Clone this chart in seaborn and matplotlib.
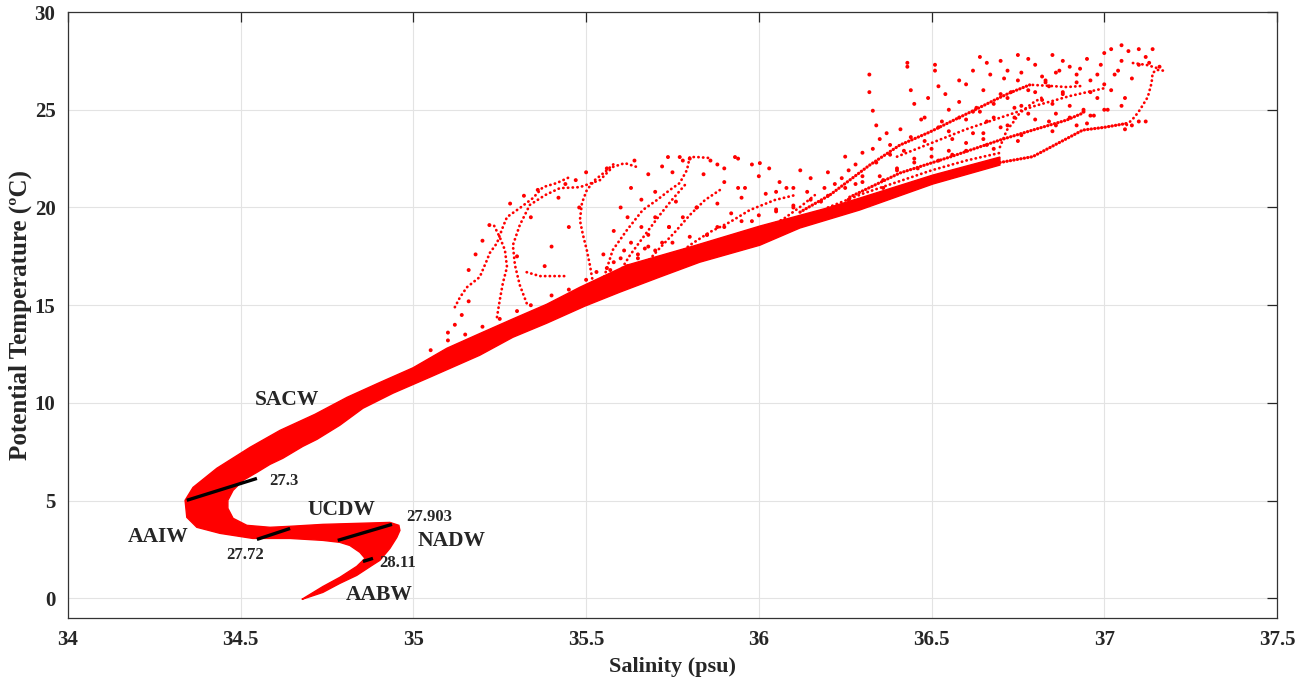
import matplotlib
matplotlib.use("Agg")
import matplotlib.pyplot as plt
import seaborn as sns
import pandas as pd

# ---------------- data (salinity psu, potential temperature degC) ----------------
# outline of the dense T-S band (AABW tip -> NADW -> UCDW -> AAIW -> SACW -> upper band and back)
band_s = [34.677, 34.738, 34.787, 34.836, 34.880, 34.903, 34.932, 34.952, 34.961, 34.958,
          34.932, 34.836, 34.738, 34.643, 34.585, 34.518, 34.478, 34.463, 34.463, 34.478,
          34.507, 34.547, 34.585, 34.622, 34.680, 34.721, 34.787, 34.854, 34.941, 35.048,
          35.192, 35.288, 35.386, 35.496, 35.598, 35.713, 35.829, 36.003, 36.119, 36.292,
          36.504, 36.698,
          36.698, 36.504, 36.292, 36.197, 36.003, 35.809, 35.618, 35.482, 35.386, 35.288,
          35.192, 35.097, 34.999, 34.903, 34.808, 34.715, 34.614, 34.527, 34.431, 34.362,
          34.339, 34.344, 34.373, 34.440, 34.535, 34.643, 34.738, 34.787, 34.816, 34.845,
          34.860, 34.836, 34.787, 34.738, 34.686]
band_t = [-0.05, 0.31, 0.77, 1.18, 1.69, 1.95, 2.56, 3.12, 3.48, 3.74,
          3.89, 3.84, 3.79, 3.69, 3.64, 3.74, 4.10, 4.61, 5.02, 5.53,
          6.04, 6.45, 6.86, 7.17, 7.78, 8.14, 8.86, 9.73, 10.50, 11.32,
          12.44, 13.36, 14.08, 14.95, 15.67, 16.44, 17.20, 18.07, 18.95, 19.87,
          21.20, 22.17,
          22.58, 21.66, 20.48, 19.97, 19.05, 18.02, 17.05, 15.92, 15.05, 14.30,
          13.55, 12.80, 11.80, 11.05, 10.29, 9.42, 8.60, 7.73, 6.66, 5.68,
          5.02, 4.15, 3.64, 3.33, 3.07, 3.07, 2.97, 2.87, 2.71, 2.36,
          2.05, 1.64, 1.08, 0.61, 0.05]

# individual profile traces in the upper water column
trA_s = [35.120, 35.135, 35.155, 35.192, 35.213, 35.221, 35.242, 35.259, 35.271, 35.308, 35.346, 35.375, 35.415, 35.453]
trA_t = [14.90, 15.41, 15.92, 16.44, 17.31, 17.67, 18.18, 19.00, 19.51, 19.97, 20.48, 21.04, 21.25, 21.56]
trB_s = [35.242, 35.250, 35.259, 35.271, 35.265, 35.250, 35.230]
trB_t = [14.39, 15.26, 16.13, 16.95, 17.82, 18.48, 19.20]
trC_s = [35.328, 35.308, 35.294, 35.288, 35.308, 35.337, 35.381, 35.424, 35.482, 35.540, 35.577, 35.612, 35.656]
trC_t = [15.10, 16.03, 17.05, 18.07, 19.10, 20.13, 20.63, 20.99, 21.04, 21.40, 22.07, 22.27, 22.02]
trC2_s = [35.328, 35.366, 35.410, 35.438]
trC2_t = [16.69, 16.49, 16.49, 16.49]
trD_s = [35.520, 35.511, 35.502, 35.491, 35.482, 35.488, 35.502, 35.525, 35.554, 35.583]
trD_t = [16.13, 17.05, 17.82, 18.59, 19.35, 20.23, 20.89, 21.40, 21.81, 22.27]
trE_s = [35.540, 35.577, 35.618, 35.664, 35.705, 35.742, 35.771, 35.792, 35.800, 35.821, 35.858]
trE_t = [15.77, 17.82, 18.84, 19.87, 20.38, 20.89, 21.25, 21.92, 22.58, 22.58, 22.53]
trF1_s = [35.583, 35.627, 35.670, 35.713, 35.748, 35.786]
trF1_t = [16.28, 17.56, 18.59, 19.61, 20.38, 21.15]
trF2_s = [35.656, 35.713, 35.757, 35.800, 35.844, 35.887]
trF2_t = [16.79, 17.92, 18.74, 19.61, 20.38, 20.89]
trF3_s = [35.742, 35.800, 35.858, 35.916, 35.974, 36.046, 36.104]
trF3_t = [17.20, 18.07, 18.74, 19.25, 19.87, 20.38, 20.63]
trF4_s = [35.829, 35.887, 35.959, 36.032, 36.104]
trF4_t = [17.56, 18.07, 18.43, 18.95, 19.35]
trF5_s = [35.931, 36.003, 36.075, 36.119, 36.162]
trF5_t = [18.07, 18.74, 19.46, 20.02, 20.63]
trG1_s = [36.119, 36.205, 36.263, 36.321, 36.408, 36.495, 36.553, 36.625, 36.683, 36.726, 36.784]
trG1_t = [19.76, 20.63, 21.40, 22.17, 23.19, 23.86, 24.37, 24.99, 25.50, 25.86, 26.27]
trG2_s = [36.793, 36.842, 36.891, 36.938]
trG2_t = [26.27, 26.22, 26.16, 26.22]
trG3_s = [36.263, 36.408, 36.553, 36.698, 36.793, 36.891, 36.938]
trG3_t = [20.53, 21.76, 22.58, 23.45, 23.96, 24.47, 24.83]
trG4_s = [36.698, 36.718, 36.735, 36.755, 36.793, 36.822]
trG4_t = [23.09, 23.96, 24.32, 24.83, 25.35, 25.65]
trG5_s = [37.065, 37.088, 37.103, 37.126, 37.137, 37.140, 37.152, 37.181]
trG5_t = [24.22, 24.63, 24.99, 25.65, 26.37, 26.88, 27.04, 26.98]
trG7_s = [37.083, 37.123, 37.161]
trG7_t = [27.39, 27.29, 27.09]
trG8_s = [36.40, 36.50, 36.60, 36.70, 36.80, 36.90, 37.00]
trG8_t = [22.60, 23.30, 24.00, 24.60, 25.20, 25.70, 26.10]
trG9_s = [36.20, 36.30, 36.40, 36.50, 36.60, 36.70]
trG9_t = [20.00, 20.70, 21.30, 21.90, 22.40, 22.80]
trL_s = [36.698, 36.793, 36.938, 37.000, 37.065]
trL_t = [22.30, 22.60, 23.96, 24.10, 24.30]

# scattered samples
spray_s = [35.12, 35.14, 35.16, 35.10, 35.16, 35.18, 35.20, 35.22, 35.28, 35.32, 35.36, 35.44, 35.47,
           35.40, 35.45, 35.48, 35.38, 35.60, 35.63, 35.66, 35.70, 35.75, 35.80, 35.86, 35.90, 35.95,
           35.98, 36.00, 36.03, 35.55, 35.58, 35.72, 35.78, 35.85, 35.92, 35.98, 36.05, 36.10,
           35.737, 35.771, 35.931, 36.003, 35.90, 35.62, 35.68, 35.74, 35.82, 35.88, 35.94, 36.08,
           35.30, 35.34, 35.42, 35.50, 35.56, 35.64, 35.68, 35.72, 35.78, 35.84, 35.88, 35.94,
           35.96, 36.02, 36.06, 36.12, 35.66, 35.70, 35.76, 35.82, 35.88, 35.68, 35.74,
           35.52, 35.55, 35.57, 35.58, 35.60, 35.62, 35.54, 35.59, 35.61, 35.63, 35.65, 35.67]
spray_t = [14.0, 14.5, 15.2, 13.6, 16.8, 17.6, 18.3, 19.1, 20.2, 20.6, 20.9, 21.2, 21.4,
           18.0, 19.0, 20.0, 17.0, 20.0, 21.0, 19.0, 20.8, 21.8, 22.5, 22.4, 21.3, 20.5,
           22.2, 21.6, 22.0, 17.6, 18.8, 18.2, 19.5, 18.6, 19.7, 19.3, 19.9, 20.0,
           22.58, 22.58, 22.58, 22.27, 22.0, 19.5, 18.0, 19.0, 20.0, 19.0, 21.0, 21.0,
           17.5, 19.5, 20.5, 21.8, 22.0, 22.4, 21.7, 22.1, 22.4, 21.7, 22.2, 22.5,
           21.0, 20.7, 21.3, 21.9, 20.4, 19.5, 20.3, 20.0, 20.2, 18.6, 19.0,
           16.0, 16.4, 16.8, 17.2, 16.6, 17.0, 15.8, 16.0, 17.8, 18.2, 17.4, 17.9]
# fuzz just above the upper edge of the main band
fuzz_s = [35.05, 35.10, 35.15, 35.20, 35.25, 35.30, 35.34, 35.40, 35.45, 35.50, 35.53, 35.56,
          35.60, 35.65, 35.70, 35.75, 35.80, 35.85, 35.90, 35.95, 36.00, 36.05, 36.10, 36.15,
          36.20, 36.25, 36.30, 36.35, 36.40, 36.45, 36.50, 36.55, 36.60, 36.65]
fuzz_t = [12.70, 13.20, 13.50, 13.90, 14.30, 14.70, 15.00, 15.50, 15.80, 16.30, 16.70, 16.90,
          17.40, 17.60, 17.80, 18.20, 18.50, 18.60, 19.00, 19.30, 19.60, 19.80, 20.10, 20.40,
          20.60, 21.00, 21.30, 21.60, 21.90, 22.30, 22.60, 22.90, 23.30, 23.50]
cloud_s = [36.32, 36.32, 36.33, 36.34, 36.35, 36.43, 36.43, 36.44, 36.45, 36.51, 36.51, 36.52, 36.55,
           36.64, 36.66, 36.70, 36.72, 36.75, 36.78, 36.80, 36.85, 36.88, 36.90, 36.95, 37.00, 37.02,
           37.05, 37.07, 37.10, 37.14, 37.12, 36.60, 36.65, 36.70, 36.75, 36.82, 36.86, 36.92, 36.96,
           37.00, 37.03, 36.98, 36.94, 36.90, 37.05, 37.08, 37.10, 37.12, 36.85, 36.78, 36.72, 36.65,
           36.60, 36.55, 36.50, 36.45, 36.40, 36.38, 36.30, 36.25, 36.20, 36.15, 36.10, 36.05, 36.18,
           36.58, 36.62, 36.68, 36.74, 36.80, 36.84, 36.88, 36.92, 36.97, 37.01, 36.48, 36.36, 36.28,
           36.22, 36.26, 36.30, 36.34, 36.38, 36.42, 36.44, 36.48, 36.52, 36.56, 36.58, 36.62, 36.64,
           36.66, 36.68, 36.70, 36.72, 36.74, 36.76, 36.78, 36.80, 36.82, 36.84, 36.86, 36.88, 36.90,
           36.92, 36.94, 36.96, 36.98, 37.00, 37.02, 37.04, 37.06, 37.08, 37.10, 37.13, 37.16, 37.05,
           36.99, 36.93, 36.87, 36.83, 36.76, 36.71, 36.67, 36.62, 36.58, 36.54, 36.49, 36.47, 36.41,
           36.37, 36.33, 36.28, 36.24, 36.19, 36.14, 36.60, 36.75, 36.85, 36.95, 37.06, 36.68, 36.52,
           36.46, 36.56, 36.66, 36.76, 36.86, 36.96, 36.36, 36.26, 36.53, 36.63, 36.73, 36.83]
cloud_t = [26.8, 25.9, 24.95, 24.2, 23.5, 27.4, 27.2, 26.0, 25.3, 27.3, 27.0, 26.2, 25.0,
           27.7, 27.4, 27.5, 27.0, 27.8, 27.6, 27.3, 27.8, 27.5, 27.2, 27.6, 27.9, 28.1,
           28.3, 28.0, 28.1, 28.1, 27.7, 26.3, 26.0, 25.8, 26.5, 26.7, 26.9, 26.8, 26.5,
           26.3, 26.8, 25.6, 25.0, 24.6, 25.2, 24.2, 24.4, 24.4, 25.3, 24.8, 24.2, 23.8,
           24.5, 23.9, 23.0, 22.5, 22.0, 23.2, 22.8, 22.6, 21.8, 21.5, 21.0, 20.8, 20.3,
           25.4, 24.9, 24.6, 25.1, 25.9, 24.4, 25.8, 24.2, 24.7, 25.0, 24.6, 21.4, 21.2,
           21.2, 21.9, 21.6, 22.3, 22.7, 22.9, 23.6, 23.4, 24.1, 23.5, 24.6, 23.8, 24.9,
           24.4, 25.3, 24.1, 25.6, 24.6, 25.2, 26.0, 24.5, 25.5, 26.2, 24.8, 25.9, 25.2,
           26.4, 24.9, 25.9, 26.8, 25.0, 26.0, 27.0, 25.6, 26.6, 27.3, 27.4, 27.2, 27.5,
           27.3, 27.1, 27.0, 26.5, 26.9, 26.6, 26.8, 27.0, 26.5, 25.8, 25.6, 24.5, 24.0,
           23.8, 23.0, 22.2, 21.5, 21.0, 20.8, 22.9, 23.4, 23.9, 24.3, 24.0, 23.0, 22.4,
           22.0, 22.7, 23.2, 23.7, 24.2, 24.7, 21.0, 20.4, 24.4, 25.1, 25.9, 26.4]

# isopycnal markers (sigma-theta limits)
iso_labels = ["27.3", "27.72", "27.903", "28.11"]
iso_s0 = [34.344, 34.547, 34.781, 34.854]
iso_t0 = [5.02, 3.02, 2.97, 1.89]
iso_s1 = [34.547, 34.643, 34.938, 34.883]
iso_t1 = [6.14, 3.58, 3.79, 2.05]
iso_lab_s = [34.625, 34.512, 35.045, 34.955]
iso_lab_t = [6.0, 2.2, 4.15, 1.8]

# water mass names
wm_names = ["SACW", "AAIW", "UCDW", "NADW", "AABW"]
wm_s = [34.634, 34.262, 34.793, 35.111, 34.900]
wm_t = [10.14, 3.12, 4.55, 2.92, 0.2]

# ---------------- plotting ----------------
sns.set_style("white")
plt.rcParams["font.family"] = ["Liberation Serif", "DejaVu Serif"]
plt.rcParams["font.weight"] = "bold"

fig = plt.figure(figsize=(13.12, 6.78), dpi=100)
ax = fig.add_axes([0.0518, 0.0885, 0.9215, 0.8938])

RED = "#ff0000"
ax.fill(band_s, band_t, color=RED, lw=1.0, zorder=2)

traces = [(trA_s, trA_t), (trB_s, trB_t), (trC_s, trC_t), (trC2_s, trC2_t), (trD_s, trD_t),
          (trE_s, trE_t), (trF1_s, trF1_t), (trF2_s, trF2_t), (trF3_s, trF3_t), (trF4_s, trF4_t),
          (trF5_s, trF5_t), (trG2_s, trG2_t), (trG4_s, trG4_t), (trG5_s, trG5_t), (trG7_s, trG7_t),
          (trG8_s, trG8_t), (trG9_s, trG9_t)]
dense = [(trG1_s, trG1_t), (trG3_s, trG3_t), (trL_s, trL_t)]
for s, t in traces:
    ax.plot(s, t, color=RED, lw=2.0, linestyle=(0, (0.1, 1.6)), dash_capstyle="round", zorder=2)
for s, t in dense:
    ax.plot(s, t, color=RED, lw=2.3, linestyle=(0, (0.1, 1.0)), dash_capstyle="round", zorder=2)

pts = pd.DataFrame({"S": spray_s + fuzz_s + cloud_s, "T": spray_t + fuzz_t + cloud_t})
sns.scatterplot(data=pts, x="S", y="T", color=RED, s=8, edgecolor="none", ax=ax, zorder=2)

for s0, t0, s1, t1 in zip(iso_s0, iso_t0, iso_s1, iso_t1):
    ax.plot([s0, s1], [t0, t1], color="black", lw=2.4, solid_capstyle="butt", zorder=3)
for lab, s, t in zip(iso_labels, iso_lab_s, iso_lab_t):
    ax.text(s, t, lab, fontsize=12, fontweight="bold", ha="center", va="center", zorder=4)
for name, s, t in zip(wm_names, wm_s, wm_t):
    ax.text(s, t, name, fontsize=15.5, fontweight="bold", ha="center", va="center", zorder=4)

ax.set_xlim(34, 37.5)
ax.set_ylim(-1, 30)
ax.set_xticks([34, 34.5, 35, 35.5, 36, 36.5, 37, 37.5])
ax.set_xticklabels(["34", "34.5", "35", "35.5", "36", "36.5", "37", "37.5"])
ax.set_yticks([0, 5, 10, 15, 20, 25, 30])
ax.grid(True, color="#e3e3e3", lw=0.8, zorder=0)
ax.set_axisbelow(True)
for sp in ax.spines.values():
    sp.set_visible(True)
    sp.set_color("#333333")
    sp.set_linewidth(0.9)
ax.tick_params(direction="in", length=7, width=0.9, top=True, right=True,
               labelsize=15, colors="#262626", pad=9)
for lab in ax.get_xticklabels() + ax.get_yticklabels():
    lab.set_fontweight("bold")
ax.set_xlabel("Salinity (psu)", fontsize=16, fontweight="bold", labelpad=5)
ax.set_ylabel("Potential Temperature (ºC)", fontsize=18, fontweight="bold", labelpad=2)

fig.savefig("out.png", dpi=100)
